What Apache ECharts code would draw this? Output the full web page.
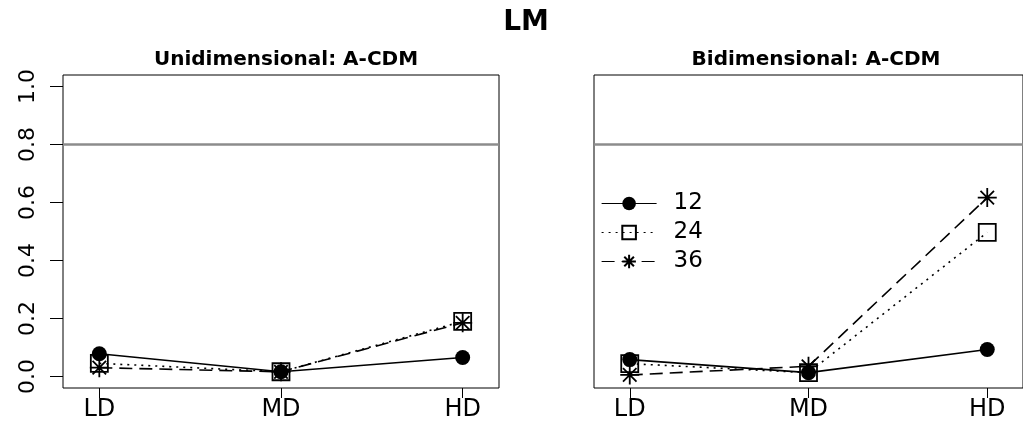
<!DOCTYPE html>
<html>
<head>
<meta charset="utf-8">
<script src="https://cdn.jsdelivr.net/npm/echarts@6/dist/echarts.min.js"></script>
<style>
html,body{margin:0;padding:0;background:#fff;}
#chart{width:1023px;height:432px;}
</style>
</head>
<body>
<div id="chart"></div>
<script>
// ---- data ----
const categories = ['LD', 'MD', 'HD'];
const seriesNames = ['12', '24', '36'];
const uni12 = [0.078, 0.016, 0.065];
const uni24 = [0.045, 0.016, 0.19];
const uni36 = [0.03, 0.016, 0.185];
const bi12 = [0.058, 0.013, 0.093];
const bi24 = [0.044, 0.013, 0.497];
const bi36 = [0.005, 0.035, 0.617];
const yTicks = [0, 0.2, 0.4, 0.6, 0.8, 1.0];
const refLine = 0.8;
const mainTitle = 'LM';
const panelTitles = ['Unidimensional: A-CDM', 'Bidimensional: A-CDM'];

// ---- helpers ----
const xPos = categories.map((c, i) => i + 1);
const toPairs = arr => arr.map((v, i) => [xPos[i], v]);
const FONT = 'DejaVu Sans';
const asterisk = 'path://M10,0L10,20M0,10L20,10M2.9,2.9L17.1,17.1M2.9,17.1L17.1,2.9';

const styles = {
  '12': { symbol: 'circle', symbolSize: 15, lineType: 'solid',
          itemStyle: { color: '#000', borderColor: '#000', borderWidth: 0 } },
  '24': { symbol: 'rect', symbolSize: 17, lineType: [2, 5],
          itemStyle: { color: 'transparent', borderColor: '#000', borderWidth: 1.8 } },
  '36': { symbol: asterisk, symbolSize: 19, lineType: [13, 7],
          itemStyle: { color: '#000', borderColor: '#000', borderWidth: 1.8 } }
};

function makeSeries(name, values, gridIdx, withRef) {
  const st = styles[name];
  const s = {
    name: name,
    type: 'line',
    xAxisIndex: gridIdx,
    yAxisIndex: gridIdx,
    data: toPairs(values),
    symbol: st.symbol,
    symbolSize: st.symbolSize,
    showAllSymbol: true,
    itemStyle: st.itemStyle,
    lineStyle: { color: '#000', width: 1.6, type: st.lineType },
    emphasis: { disabled: true },
    animation: false,
    z: 3
  };
  if (withRef) {
    s.markLine = {
      silent: true,
      symbol: 'none',
      label: { show: false },
      lineStyle: { color: '#8c8c8c', width: 2.5, type: 'solid' },
      data: [{ yAxis: refLine }],
      z: 1
    };
  }
  return s;
}

const grids = [
  { left: 63, top: 75, width: 436, height: 313 },
  { left: 594, top: 75, width: 439, height: 313 }
];

const xAxes = grids.map((g, i) => ({
  type: 'value',
  gridIndex: i,
  min: 0.8,
  max: 3.2,
  splitLine: { show: false },
  axisLine: { show: false, onZero: false },
  axisTick: { show: true, inside: false, length: 10, customValues: xPos,
              lineStyle: { color: '#000', width: 1 } },
  axisLabel: { show: true, customValues: xPos, margin: 10,
               fontFamily: FONT, fontSize: 24, color: '#000',
               formatter: v => categories[Math.round(v) - 1] }
}));

const yAxes = grids.map((g, i) => ({
  type: 'value',
  gridIndex: i,
  min: -0.04,
  max: 1.04,
  splitLine: { show: false },
  axisLine: { show: false, onZero: false },
  axisTick: { show: i === 0, inside: false, length: 13, customValues: yTicks,
              lineStyle: { color: '#000', width: 1 } },
  axisLabel: { show: i === 0, customValues: yTicks, rotate: 90, margin: 24,
               align: 'center', verticalAlign: 'bottom',
               fontFamily: FONT, fontSize: 22, color: '#000',
               formatter: v => v.toFixed(1) }
}));

const series = [];
series.push(makeSeries('12', uni12, 0, true));
series.push(makeSeries('24', uni24, 0, false));
series.push(makeSeries('36', uni36, 0, false));
series.push(makeSeries('12', bi12, 1, true));
series.push(makeSeries('24', bi24, 1, false));
series.push(makeSeries('36', bi36, 1, false));

const option = {
  backgroundColor: '#fff',
  animation: false,
  title: [
    { text: mainTitle, left: 521, top: 4, textAlign: 'center',
      textStyle: { fontFamily: FONT, fontSize: 28, fontWeight: 'bold', color: '#000' } },
    { text: panelTitles[0], left: 281, top: 45, textAlign: 'center',
      textStyle: { fontFamily: FONT, fontSize: 20, fontWeight: 'bold', color: '#000' } },
    { text: panelTitles[1], left: 811, top: 45, textAlign: 'center',
      textStyle: { fontFamily: FONT, fontSize: 20, fontWeight: 'bold', color: '#000' } }
  ],
  legend: {
    data: seriesNames.map(n => ({ name: n })),
    orient: 'vertical',
    left: 596,
    top: 187,
    itemWidth: 55,
    itemHeight: 17,
    itemGap: 6,
    selectedMode: false,
    lineStyle: { width: 1.2 },
    textStyle: { fontFamily: FONT, fontSize: 23, color: '#000', padding: [0, 0, 0, 12] }
  },
  grid: grids.map(g => Object.assign({ show: true, borderColor: '#000', borderWidth: 1,
                                        backgroundColor: 'transparent' }, g)),
  xAxis: xAxes,
  yAxis: yAxes,
  series: series
};

const chart = echarts.init(document.getElementById('chart'), null, { renderer: 'canvas' });
chart.setOption(option);
</script>
</body>
</html>
